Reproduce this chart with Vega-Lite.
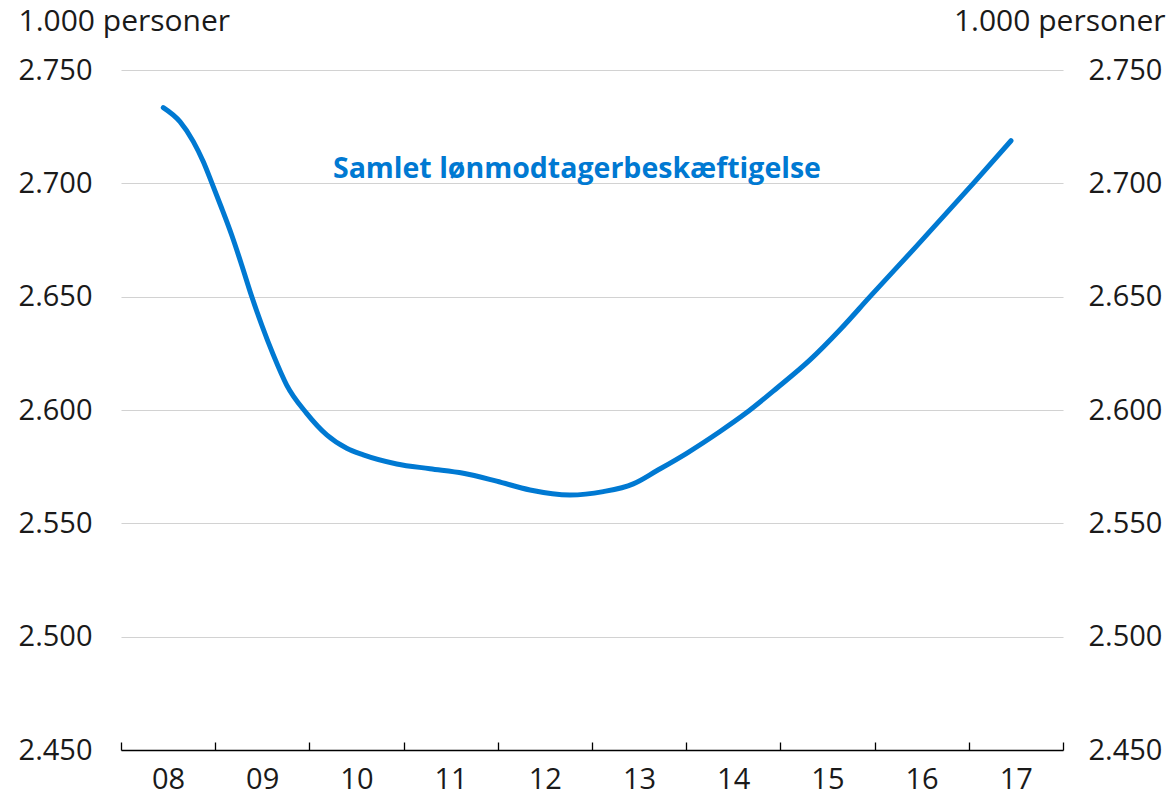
{
  "$schema": "https://vega.github.io/schema/vega-lite/v6.json",
  "width": 942,
  "height": 680,
  "autosize": {"type": "none"},
  "padding": {"left": 121, "top": 70, "right": 108, "bottom": 49},
  "background": "white",
  "config": {
    "view": {"stroke": null},
    "font": "Open Sans",
    "axis": {"labelFont": "Open Sans", "titleFont": "Open Sans", "labelColor": "#1a1a1a", "titleColor": "#1a1a1a"}
  },
  "datasets": {
    "series": [
      {"t": 2008.449, "v": 2733.4},
      {"t": 2008.626, "v": 2727.2},
      {"t": 2008.768, "v": 2718.4},
      {"t": 2008.874, "v": 2709.5},
      {"t": 2008.963, "v": 2700.3},
      {"t": 2009.069, "v": 2689.0},
      {"t": 2009.175, "v": 2677.2},
      {"t": 2009.281, "v": 2664.0},
      {"t": 2009.387, "v": 2650.2},
      {"t": 2009.494, "v": 2637.5},
      {"t": 2009.617, "v": 2624.3},
      {"t": 2009.759, "v": 2611.0},
      {"t": 2009.971, "v": 2598.5},
      {"t": 2010.184, "v": 2589.0},
      {"t": 2010.396, "v": 2583.1},
      {"t": 2010.572, "v": 2580.2},
      {"t": 2010.927, "v": 2576.2},
      {"t": 2011.280, "v": 2574.1},
      {"t": 2011.634, "v": 2572.1},
      {"t": 2011.988, "v": 2568.6},
      {"t": 2012.342, "v": 2564.7},
      {"t": 2012.766, "v": 2562.5},
      {"t": 2013.120, "v": 2564.0},
      {"t": 2013.438, "v": 2567.4},
      {"t": 2013.687, "v": 2573.2},
      {"t": 2014.005, "v": 2580.9},
      {"t": 2014.359, "v": 2590.5},
      {"t": 2014.624, "v": 2598.3},
      {"t": 2014.961, "v": 2609.6},
      {"t": 2015.314, "v": 2622.1},
      {"t": 2015.630, "v": 2635.3},
      {"t": 2015.951, "v": 2650.0},
      {"t": 2016.45, "v": 2672.5},
      {"t": 2017.048, "v": 2700.0},
      {"t": 2017.448, "v": 2718.8}
    ],
    "note": [
      {"t": 2012.84, "v": 2702.5, "label": "Samlet lønmodtagerbeskæftigelse"}
    ]
  },
  "layer": [
    {
      "data": {"name": "series"},
      "mark": {"type": "line", "color": "#0079d2", "strokeWidth": 5, "strokeCap": "round", "interpolate": "monotone"},
      "encoding": {
        "x": {
          "field": "t", "type": "quantitative",
          "scale": {"domain": [2008, 2018], "nice": false, "zero": false},
          "axis": {
            "values": [2008, 2009, 2010, 2011, 2012, 2013, 2014, 2015, 2016, 2017, 2018],
            "labelExpr": "datum.value < 2018 ? format(datum.value % 100, '02d') : ''",
            "labelOffset": 47,
            "labelFlush": false,
            "labelOverlap": false,
            "labelFontSize": 29,
            "labelPadding": 23,
            "grid": false,
            "domainColor": "#000000",
            "domainWidth": 1.3,
            "tickColor": "#000000",
            "tickWidth": 1.3,
            "tickSize": -8,
            "title": null
          }
        },
        "y": {
          "field": "v", "type": "quantitative",
          "scale": {"domain": [2450, 2750], "nice": false, "zero": false},
          "axis": {
            "orient": "left",
            "values": [2450, 2500, 2550, 2600, 2650, 2700, 2750],
            "labelExpr": "replace(format(datum.value, ',d'), ',', '.')",
            "labelFontSize": 29,
            "labelPadding": 29,
            "labelBaseline": "middle",
            "domain": false,
            "ticks": false,
            "grid": true,
            "gridColor": "#d2d2d2",
            "gridWidth": 1.2,
            "title": "1.000 personer",
            "titleAngle": 0,
            "titleAlign": "left",
            "titleBaseline": "alphabetic",
            "titleX": -103,
            "titleY": -40,
            "titleFontSize": 30,
            "titleFontWeight": "normal"
          }
        }
      }
    },
    {
      "data": {"name": "note"},
      "mark": {"type": "text", "color": "#0079d2", "fontSize": 28.5, "fontWeight": "bold", "font": "Open Sans", "align": "center", "baseline": "alphabetic"},
      "encoding": {
        "x": {"field": "t", "type": "quantitative"},
        "y": {
          "field": "v", "type": "quantitative",
          "axis": {
            "orient": "right",
            "values": [2450, 2500, 2550, 2600, 2650, 2700, 2750],
            "labelExpr": "replace(format(datum.value, ',d'), ',', '.')",
            "labelFontSize": 29,
            "labelPadding": 25,
            "labelBaseline": "middle",
            "domain": false,
            "ticks": false,
            "grid": false,
            "title": "1.000 personer",
            "titleAngle": 0,
            "titleAlign": "right",
            "titleBaseline": "alphabetic",
            "titleX": 102,
            "titleY": -40,
            "titleFontSize": 30,
            "titleFontWeight": "normal"
          }
        },
        "text": {"field": "label"}
      }
    }
  ],
  "resolve": {"scale": {"y": "shared"}, "axis": {"y": "independent"}}
}
